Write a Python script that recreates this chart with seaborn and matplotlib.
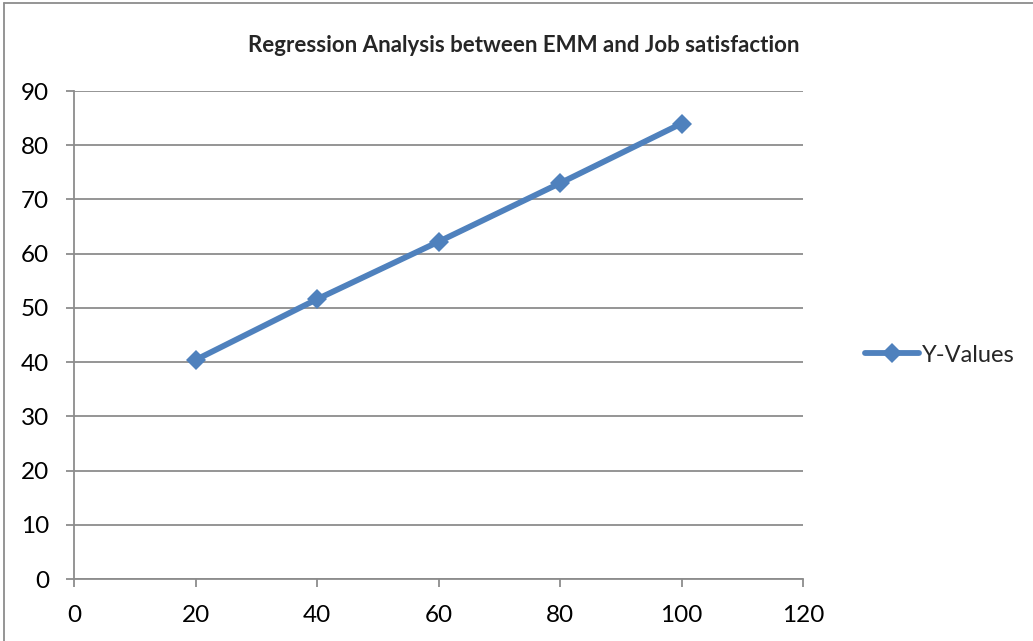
import matplotlib
matplotlib.use("Agg")
import matplotlib.pyplot as plt
import seaborn as sns
import pandas as pd
from matplotlib.lines import Line2D

x_values = [20, 40, 60, 80, 100]
y_values = [40.4, 51.6, 62.2, 73.0, 84.0]
series_name = "Y-Values"
title = "Regression Analysis between EMM and Job satisfaction"
x_ticks = [0, 20, 40, 60, 80, 100, 120]
y_ticks = [0, 10, 20, 30, 40, 50, 60, 70, 80, 90]

sns.set_style("white")
plt.rcParams['font.family'] = ['Lato', 'DejaVu Sans']

df = pd.DataFrame({"x": x_values, "y": y_values, "series": series_name})

fig = plt.figure(figsize=(10.33, 6.41), dpi=100)
ax = fig.add_axes([74/1033, 1 - 579/641, (803 - 74)/1033, (579 - 91)/641])

blue = "#4F81BD"
sns.lineplot(data=df, x="x", y="y", hue="series", palette=[blue], marker="D",
             markersize=10, markeredgewidth=0, linewidth=4.2, ax=ax, legend=True)

ax.set_xlim(0, 120)
ax.set_ylim(0, 90)
ax.set_xticks(x_ticks)
ax.set_yticks(y_ticks)
ax.set_xlabel("")
ax.set_ylabel("")
ax.grid(axis="y", color="#8c8c8c", linewidth=1.3)
ax.grid(axis="x", visible=False)
ax.set_axisbelow(True)
for s in ["top", "right"]:
    ax.spines[s].set_visible(False)
for s in ["left", "bottom"]:
    ax.spines[s].set_color("#8c8c8c")
    ax.spines[s].set_linewidth(1.3)
ax.tick_params(axis="both", which="both", direction="out", length=6, width=1.3,
               color="#8c8c8c", labelsize=17.5, labelcolor="black",
               left=True, bottom=True)
ax.tick_params(axis="x", pad=13)
ax.tick_params(axis="y", pad=12)

leg = ax.legend(loc="center left", bbox_to_anchor=(1.056, 0.459), frameon=False,
                fontsize=17, handlelength=2.3, handletextpad=0.1)
for h in leg.legend_handles:
    h.set_markersize(10)
    h.set_linewidth(4.2)

fig.text(524/1033, 1 - 45/641, title, ha="center", va="center",
         fontsize=16, fontweight="bold")

fig.add_artist(Line2D([4/1033, 1.0], [1 - 2.5/641, 1 - 2.5/641], transform=fig.transFigure,
                      color="#8c8c8c", linewidth=1.3))
fig.add_artist(Line2D([4/1033, 4/1033], [0.0, 1 - 2.5/641], transform=fig.transFigure,
                      color="#8c8c8c", linewidth=1.3))

fig.savefig("out.png", dpi=100)
